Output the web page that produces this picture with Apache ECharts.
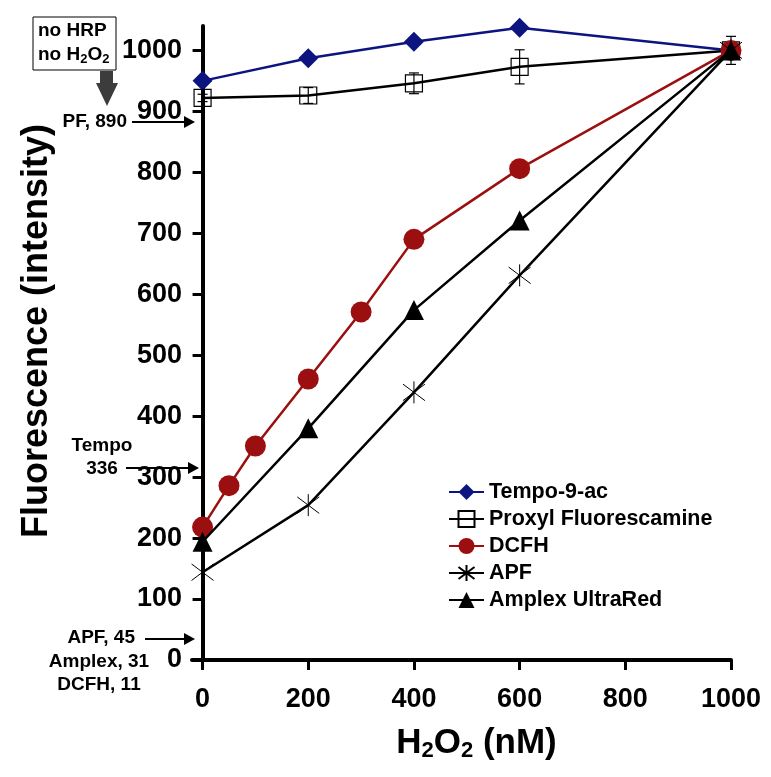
<!DOCTYPE html>
<html>
<head>
<meta charset="utf-8">
<script src="https://cdn.jsdelivr.net/npm/echarts@6/dist/echarts.min.js"></script>
<style>html,body{margin:0;padding:0;background:#fff;}#c{width:771px;height:777px;}</style>
</head>
<body>
<div id="c"></div>
<script>
// ---- data ----
const xTicks = [0, 200, 400, 600, 800, 1000];
const yTicks = [0, 100, 200, 300, 400, 500, 600, 700, 800, 900, 1000];
const seriesNames = ['Tempo-9-ac', 'Proxyl Fluorescamine', 'DCFH', 'APF', 'Amplex UltraRed'];
const tempoX = [0, 200, 400, 600, 1000];
const tempoY = [950, 987, 1014, 1037, 1000];
const pfX = [0, 200, 400, 600, 1000];
const pfY = [922, 926, 946, 973, 1000];
const pfErr = [6, 13, 17, 28, 23];
const dcfhX = [0, 50, 100, 200, 300, 400, 600, 1000];
const dcfhY = [218, 286, 351, 461, 571, 690, 806, 1000];
const apfX = [0, 200, 400, 600, 1000];
const apfY = [144, 254, 439, 631, 1000];
const amplexX = [0, 200, 400, 600, 1000];
const amplexY = [194, 380, 574, 721, 1000];

const pair = (xs, ys) => xs.map((x, i) => [x, ys[i]]);
const FONT = '"Liberation Sans", Arial, sans-serif';
const asterisk = 'path://M10,0L10,20M2.5,2.5L17.5,17.5M2.5,17.5L17.5,2.5';
const plain = v => String(v);

const chart = echarts.init(document.getElementById('c'), null, {renderer: 'canvas'});
const option = {
  backgroundColor: '#fff',
  animation: false,
  grid: {left: 192, right: 40, top: 26, bottom: 117, outerBoundsMode: 'none', containLabel: false},
  xAxis: {
    type: 'value', min: -20, max: 1000,
    name: '{a|H}{s|2}{a|O}{s|2}{a| (nM)}',
    nameLocation: 'middle', nameGap: 64,
    nameTextStyle: {padding: [0, 0, 0, 30], rich: {
      a: {fontFamily: FONT, fontWeight: 'bold', fontSize: 35, color: '#000'},
      s: {fontFamily: FONT, fontWeight: 'bold', fontSize: 22, color: '#000', verticalAlign: 'bottom', padding: [16, 0, 0, 0]}
    }},
    axisLine: {onZero: false, lineStyle: {color: '#000', width: 4}},
    axisTick: {show: true, customValues: xTicks, length: 10, lineStyle: {color: '#000', width: 3}},
    axisLabel: {customValues: xTicks, formatter: plain, margin: 26, fontFamily: FONT, fontWeight: 'bold', fontSize: 27, color: '#000'},
    splitLine: {show: false}
  },
  yAxis: {
    type: 'value', min: 0, max: 1040,
    name: 'Fluorescence (intensity)',
    nameLocation: 'middle', nameGap: 137, nameRotate: 90,
    nameTextStyle: {fontFamily: FONT, fontWeight: 'bold', fontSize: 36, color: '#000', padding: [0, 0, 0, 24]},
    axisLine: {onZero: true, lineStyle: {color: '#000', width: 4}},
    axisTick: {show: true, customValues: yTicks, length: 10, lineStyle: {color: '#000', width: 3}},
    axisLabel: {customValues: yTicks, formatter: plain, margin: 10, fontFamily: FONT, fontWeight: 'bold', fontSize: 27, color: '#000'},
    splitLine: {show: false}
  },
  legend: {
    orient: 'vertical', left: 448, top: 481, padding: 0,
    itemWidth: 35, itemHeight: 20, itemGap: 5,
    data: seriesNames,
    textStyle: {fontFamily: FONT, fontWeight: 'bold', fontSize: 21.5, color: '#000'}
  },
  series: [
    {
      name: seriesNames[0], type: 'line', data: pair(tempoX, tempoY), clip: false,
      symbol: 'diamond', symbolSize: 20,
      itemStyle: {color: '#0c1480'}, lineStyle: {color: '#0c1480', width: 2.5}, z: 3
    },
    {
      name: 'pfErr', type: 'custom', z: 2,
      data: pfX.map((x, i) => [x, pfY[i] - pfErr[i], pfY[i] + pfErr[i]]),
      renderItem: function (params, api) {
        const lo = api.coord([api.value(0), api.value(1)]);
        const hi = api.coord([api.value(0), api.value(2)]);
        const w = 5;
        const st = {stroke: '#000', lineWidth: 1.2};
        return {type: 'group', children: [
          {type: 'line', shape: {x1: lo[0], y1: lo[1], x2: hi[0], y2: hi[1]}, style: st},
          {type: 'line', shape: {x1: lo[0] - w, y1: lo[1], x2: lo[0] + w, y2: lo[1]}, style: st},
          {type: 'line', shape: {x1: hi[0] - w, y1: hi[1], x2: hi[0] + w, y2: hi[1]}, style: st}
        ]};
      },
      silent: true
    },
    {
      name: seriesNames[1], type: 'line', data: pair(pfX, pfY), clip: false,
      symbol: 'rect', symbolSize: 17,
      itemStyle: {color: 'rgba(255,255,255,0)', borderColor: '#000', borderWidth: 1.2},
      lineStyle: {color: '#000', width: 2.5}, z: 3
    },
    {
      name: seriesNames[2], type: 'line', data: pair(dcfhX, dcfhY),
      symbol: 'circle', symbolSize: 21,
      itemStyle: {color: '#9c0f10'}, lineStyle: {color: '#9c0f10', width: 2.5}, z: 3
    },
    {
      name: seriesNames[3], type: 'line', data: pair(apfX, apfY),
      symbol: asterisk, symbolSize: 22,
      itemStyle: {color: '#000', borderColor: '#000', borderWidth: 1},
      lineStyle: {color: '#000', width: 2.5}, z: 3
    },
    {
      name: seriesNames[4], type: 'line', data: pair(amplexX, amplexY),
      symbol: 'triangle', symbolSize: 20,
      itemStyle: {color: '#000'}, lineStyle: {color: '#000', width: 2.5}, z: 4
    }
  ],
  graphic: [
    {type: 'rect', shape: {x: 33, y: 17, width: 83, height: 53}, style: {fill: '#fff', stroke: '#000', lineWidth: 1}, z: 10},
    {type: 'text', x: 38, y: 31, style: {text: 'no HRP', font: 'bold 19px ' + FONT, fill: '#000', textVerticalAlign: 'middle'}, z: 11},
    {type: 'text', x: 38, y: 55, style: {
      text: '{a|no H}{s|2}{a|O}{s|2}', textVerticalAlign: 'middle',
      rich: {
        a: {fontFamily: FONT, fontWeight: 'bold', fontSize: 19, fill: '#000'},
        s: {fontFamily: FONT, fontWeight: 'bold', fontSize: 13, fill: '#000', padding: [8, 0, 0, 0]}
      }}, z: 11},
    {type: 'polygon', shape: {points: [[100, 71], [113, 71], [113, 83], [118, 83], [107, 106], [96, 83], [100, 83]]}, style: {fill: '#3c3c3c'}, z: 10},
    {type: 'text', x: 127, y: 122, style: {text: 'PF, 890', font: 'bold 19px ' + FONT, fill: '#000', textAlign: 'right', textVerticalAlign: 'middle'}, z: 11},
    {type: 'line', shape: {x1: 132, y1: 122, x2: 186, y2: 122}, style: {stroke: '#000', lineWidth: 2}, z: 11},
    {type: 'polygon', shape: {points: [[184, 116], [195, 122], [184, 128]]}, style: {fill: '#000'}, z: 11},
    {type: 'text', x: 102, y: 446, style: {text: 'Tempo', font: 'bold 19px ' + FONT, fill: '#000', textAlign: 'center', textVerticalAlign: 'middle'}, z: 11},
    {type: 'text', x: 102, y: 469, style: {text: '336', font: 'bold 19px ' + FONT, fill: '#000', textAlign: 'center', textVerticalAlign: 'middle'}, z: 11},
    {type: 'line', shape: {x1: 126, y1: 468, x2: 190, y2: 468}, style: {stroke: '#000', lineWidth: 2}, z: 11},
    {type: 'polygon', shape: {points: [[188, 462], [199, 468], [188, 474]]}, style: {fill: '#000'}, z: 11},
    {type: 'text', x: 135, y: 638, style: {text: 'APF, 45', font: 'bold 19px ' + FONT, fill: '#000', textAlign: 'right', textVerticalAlign: 'middle'}, z: 11},
    {type: 'line', shape: {x1: 145, y1: 639, x2: 186, y2: 639}, style: {stroke: '#000', lineWidth: 2}, z: 11},
    {type: 'polygon', shape: {points: [[184, 633], [195, 639], [184, 645]]}, style: {fill: '#000'}, z: 11},
    {type: 'text', x: 99, y: 662, style: {text: 'Amplex, 31', font: 'bold 19px ' + FONT, fill: '#000', textAlign: 'center', textVerticalAlign: 'middle'}, z: 11},
    {type: 'text', x: 99, y: 685, style: {text: 'DCFH, 11', font: 'bold 19px ' + FONT, fill: '#000', textAlign: 'center', textVerticalAlign: 'middle'}, z: 11}
  ]
};
chart.setOption(option);
</script>
</body>
</html>
